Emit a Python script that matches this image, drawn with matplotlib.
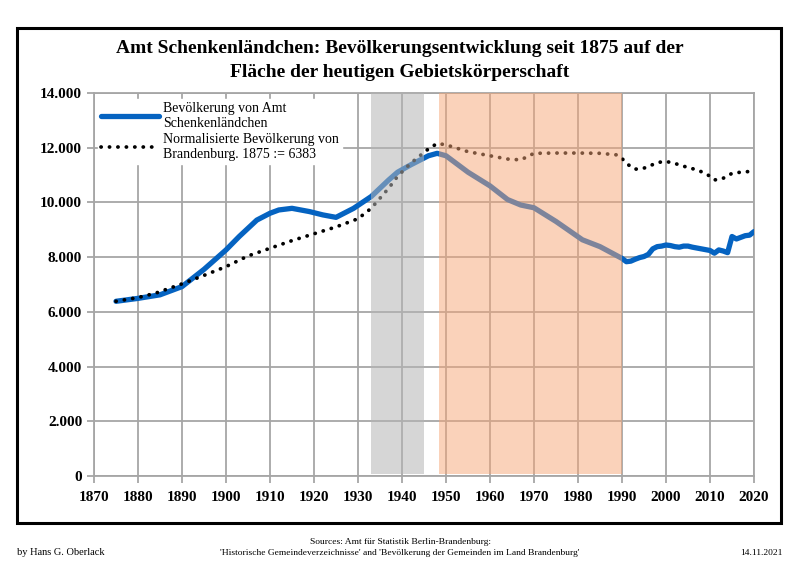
import matplotlib
matplotlib.use("Agg")
import matplotlib.pyplot as plt
from matplotlib.patches import Rectangle
from matplotlib.ticker import FuncFormatter

# Amt Schenkenländchen, population
years_amt = [1875, 1880, 1885, 1890, 1895, 1900, 1903, 1905, 1907, 1910, 1912,
             1915, 1919, 1922, 1925, 1929, 1933, 1937, 1939, 1942, 1946, 1948,
             1950, 1955, 1960, 1964, 1967, 1970, 1975, 1981, 1985, 1990, 1991,
             1992, 1993, 1994, 1995, 1996, 1997, 1998, 1999, 2000, 2001, 2002,
             2003, 2004, 2005, 2006, 2007, 2008, 2009, 2010, 2011, 2012, 2013,
             2014, 2015, 2016, 2017, 2018, 2019, 2020]
pop_amt = [6383, 6490, 6620, 6920, 7550, 8260, 8750, 9050, 9350, 9600, 9720,
           9780, 9660, 9540, 9450, 9780, 10210, 10820, 11100, 11370, 11700,
           11790, 11700, 11100, 10600, 10100, 9900, 9800, 9300, 8630, 8380,
           7950, 7830, 7850, 7920, 7980, 8020, 8100, 8300, 8380, 8400, 8440,
           8420, 8380, 8360, 8400, 8400, 8360, 8330, 8300, 8270, 8240, 8140,
           8260, 8220, 8160, 8750, 8660, 8720, 8780, 8800, 8930]

# Brandenburg, normalised to 1875 := 6383
years_bb = [1875, 1880, 1884, 1890, 1895, 1900, 1905, 1910, 1915, 1920, 1925,
            1930, 1933, 1937, 1939, 1942, 1946, 1948, 1950, 1955, 1959, 1964,
            1967, 1970, 1975, 1980, 1985, 1989, 1990, 1991, 1992, 1993, 1994,
            1995, 1996, 1997, 1998, 1999, 2000, 2001, 2002, 2003, 2004, 2005,
            2006, 2007, 2008, 2009, 2010, 2011, 2012, 2013, 2014, 2015, 2016,
            2017, 2018, 2019]
pop_bb = [6383, 6520, 6680, 7020, 7330, 7650, 8040, 8320, 8600, 8850, 9100,
          9400, 9780, 10520, 10950, 11430, 11950, 12150, 12100, 11850, 11730,
          11580, 11550, 11790, 11800, 11800, 11790, 11730, 11600, 11430, 11300,
          11210, 11230, 11250, 11300, 11380, 11440, 11480, 11490, 11460, 11420,
          11370, 11320, 11270, 11230, 11180, 11120, 11050, 10950, 10820, 10830,
          10880, 10960, 11060, 11080, 11100, 11120, 11120]

blue = "#0563c1"
plt.rcParams["font.family"] = ["Liberation Serif", "DejaVu Serif"]

fig = plt.figure(figsize=(8.0, 5.66), dpi=100)
ax = fig.add_axes([0.1175, 0.159, 0.825, 0.677])

ax.plot(years_amt, pop_amt, color=blue, lw=3.8, solid_capstyle="round",
        solid_joinstyle="round", zorder=3,
        label="Bevölkerung von Amt\nSchenkenländchen")
ax.plot(years_bb, pop_bb, color="black", lw=2.7, linestyle=(0, (0.05, 2.2)),
        dash_capstyle="round", zorder=3,
        label="Normalisierte Bevölkerung von\nBrandenburg. 1875 := 6383")

# shaded periods, drawn over the lines
ax.axvspan(1933, 1945, ymin=0.005, ymax=1.0, color="#b5b5b5", alpha=0.55,
           lw=0, zorder=4)
ax.axvspan(1948.5, 1990, ymin=0.005, ymax=1.0, color="#f6a676", alpha=0.5,
           lw=0, zorder=4)

ax.set_xlim(1870, 2020)
ax.set_ylim(0, 14000)
ax.set_xticks(range(1870, 2021, 10))
ax.set_yticks(range(0, 14001, 2000))
ax.yaxis.set_major_formatter(FuncFormatter(lambda v, p: f"{int(v):,}".replace(",", ".")))
ax.grid(True, color="#a6a6a6", lw=1.3, zorder=1)
ax.set_axisbelow(True)
for s in ax.spines.values():
    s.set_color("#a6a6a6")
    s.set_linewidth(1.3)
ax.tick_params(axis="both", colors="#a6a6a6", width=1.3, length=5,
               labelcolor="black", labelsize=11)
for lab in ax.get_xticklabels() + ax.get_yticklabels():
    lab.set_fontweight("bold")
ax.tick_params(axis="x", pad=6)

leg = ax.legend(loc="upper left", bbox_to_anchor=(0.0, 0.995), frameon=True,
                fontsize=10, handlelength=4.2, handletextpad=0.3,
                labelspacing=0.2, borderpad=0.2, borderaxespad=0.3,
                fancybox=False)
for t in leg.get_texts():
    t.set_linespacing(1.25)
leg.get_frame().set_edgecolor("white")
leg.get_frame().set_facecolor("white")
leg.get_frame().set_alpha(1)
leg.set_zorder(5)

fig.text(0.5, 0.893, "Amt Schenkenländchen: Bevölkerungsentwicklung seit 1875 auf der\n"
         "Fläche der heutigen Gebietskörperschaft", ha="center", va="center",
         fontsize=14, fontweight="bold", linespacing=1.6)

# outer frame
fig.patches.append(Rectangle((0.021, 0.076), 0.955, 0.874, transform=fig.transFigure,
                             fill=False, edgecolor="black", lw=2.2))

fig.text(0.021, 0.016, "by Hans G. Oberlack", ha="left", va="bottom", fontsize=7.5)
fig.text(0.5, 0.016, "Sources: Amt für Statistik Berlin-Brandenburg:\n"
         "'Historische Gemeindeverzeichnisse' and 'Bevölkerung der Gemeinden im Land Brandenburg'",
         ha="center", va="bottom", fontsize=6.8, linespacing=1.5)
fig.text(0.978, 0.016, "14.11.2021", ha="right", va="bottom", fontsize=6.8)

fig.savefig("out.png", dpi=100)
